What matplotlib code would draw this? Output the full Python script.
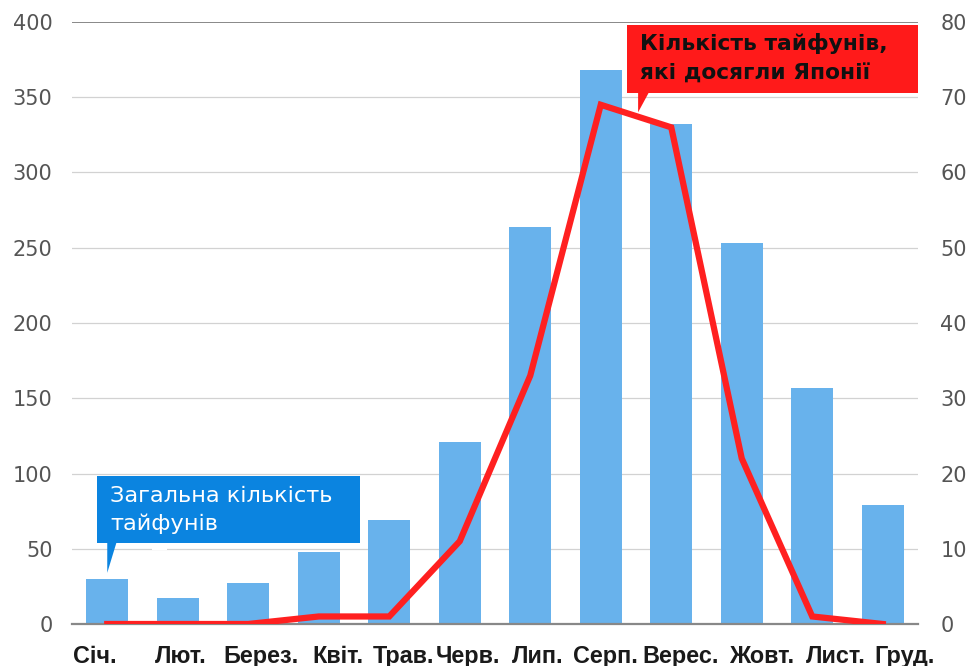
import matplotlib
matplotlib.use("Agg")
import matplotlib.pyplot as plt
from matplotlib.patches import Rectangle, Polygon

months = ["Січ.", "Лют.", "Берез.", "Квіт.", "Трав.", "Черв.", "Лип.", "Серп.", "Верес.", "Жовт.", "Лист.", "Груд."]
total = [30, 17, 27, 48, 69, 121, 264, 368, 332, 253, 157, 79]
japan = [0, 0, 0, 1, 1, 11, 33, 69, 66, 22, 1, 0]
left_ticks = [0, 50, 100, 150, 200, 250, 300, 350, 400]
right_ticks = [0, 10, 20, 30, 40, 50, 60, 70, 80]
# layout: horizontal shift of each month label relative to its bar (in bar units)
label_shift = [-0.18, 0.04, 0.18, 0.27, 0.2, 0.11, 0.1, 0.06, 0.13, 0.28, 0.34, 0.31]

fig = plt.figure(figsize=(9.78, 6.66), dpi=100)
ax = fig.add_axes([72/978, 42/666, 846/978, 602/666])
x = list(range(len(months)))
ax.bar(x, total, width=0.6, color="#68b2ec", zorder=2)
ax.set_xlim(-0.5, 11.5)
ax.set_ylim(0, 400)
ax.set_yticks(left_ticks)
ax.set_xticks([i + d for i, d in zip(x, label_shift)])
ax.set_xticklabels(months, fontsize=16.8, fontweight="bold", color="#1a1a1a",
                   family=["Liberation Sans", "DejaVu Sans"])
ax.tick_params(axis="x", length=0, pad=15)
ax.tick_params(axis="y", length=0, pad=14, labelsize=15, labelcolor="#555555")
for t in left_ticks:
    ax.axhline(t, color="#888888" if t == 400 else "#d2d2d2", lw=1.4 if t == 400 else 0.9, zorder=1)
for s in ["top", "right", "left"]:
    ax.spines[s].set_visible(False)
ax.spines["bottom"].set_color("#888888")
ax.spines["bottom"].set_linewidth(1.6)
ax.spines["bottom"].set_zorder(3)

ax2 = ax.twinx()
ax2.plot(x, japan, color="#ff2020", lw=4.5, zorder=4, solid_joinstyle="miter")
ax2.set_ylim(0, 80)
ax2.set_yticks(right_ticks)
ax2.tick_params(axis="y", length=0, pad=16, labelsize=15, labelcolor="#555555")
for s in ["top", "right", "left", "bottom"]:
    ax2.spines[s].set_visible(False)

# small white patch over the 50 gridline
ax2.add_patch(Rectangle((0.64, 49.5/5), 0.21, 5/5, color="white", zorder=5, lw=0))

# Blue callout
ax2.add_patch(Rectangle((-0.142, 53.8/5), 3.73, (98.3-53.8)/5, transform=ax2.transData,
                        color="#0b84e0", zorder=6, clip_on=False, lw=0))
ax2.add_patch(Polygon([(0.0, 54/5), (0.13, 54/5), (0.0, 34/5)], closed=True,
                      color="#0b84e0", zorder=6, clip_on=False, lw=0))
ax2.text(0.04, 92/5, "Загальна кількість\nтайфунів", color="white", fontsize=16.2,
         va="top", ha="left", linespacing=1.5, zorder=7)

# Red callout
ax2.add_patch(Rectangle((7.376, 352.8/5), 4.124, (398-352.8)/5, transform=ax2.transData,
                        color="#ff1a1a", zorder=6, clip_on=False, lw=0))
ax2.add_patch(Polygon([(7.53, 353/5), (7.68, 353/5), (7.53, 340/5)], closed=True,
                      color="#ff1a1a", zorder=6, clip_on=False, lw=0))
ax2.text(7.56, 393/5, "Кількість тайфунів,\nякі досягли Японії", color="#111111", fontsize=15.7,
         fontweight="bold", va="top", ha="left", linespacing=1.62, zorder=7)

fig.savefig("out.png", dpi=100)
